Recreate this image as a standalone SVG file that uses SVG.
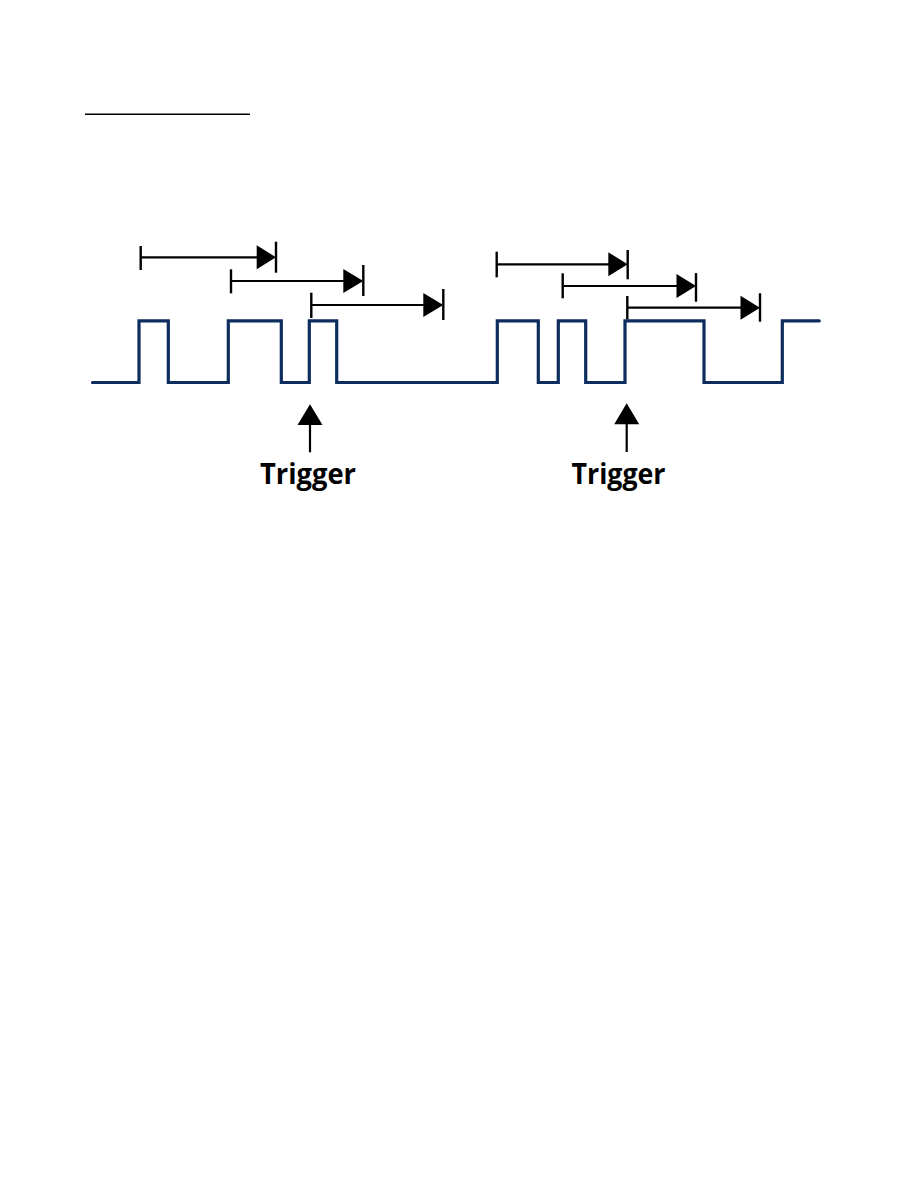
<svg xmlns="http://www.w3.org/2000/svg" width="918" height="1188" viewBox="0 0 918 1188">
<style>
.wave{fill:none;stroke:#0d2d5f;stroke-width:3.2;stroke-linejoin:miter;stroke-linecap:round}
.dim{stroke:#000;stroke-width:2.2;fill:none}
.tick{stroke:#000;stroke-width:2.4}
.head{fill:#000}
.lbl{font-family:"Open Sans","Liberation Sans",sans-serif;font-weight:700;font-size:29px;fill:#000}
</style>
<rect width="918" height="1188" fill="#fff"/>
<line x1="85" y1="114.3" x2="250" y2="114.3" stroke="#000" stroke-width="1.6"/>
<g id="waveform">
<path class="wave" d="M92.5,382.5 H139 V320.8 H168.3 V382.5 H228.3 V320.8 H281.3 V382.5 H309.3 V320.8 H336.7 V382.5 H497.3 V320.8 H538.3 V382.5 H558.3 V320.8 H585.7 V382.5 H625 V320.8 H704 V382.5 H782.3 V320.8 H819.3"/>
</g>
<g id="connectors">
<g id="span-l1">
<line class="tick" x1="140.7" y1="246" x2="140.7" y2="270"/>
<line class="dim" x1="140.7" y1="257.3" x2="258" y2="257.3"/>
<path class="head" d="M256.7,245.3 L276,257.3 L256.7,269.3 Z"/>
<line class="tick" x1="276" y1="241.7" x2="276" y2="272.7"/>
</g>
<g id="span-l2">
<line class="tick" x1="231" y1="269.3" x2="231" y2="293.3"/>
<line class="dim" x1="231" y1="281" x2="345" y2="281"/>
<path class="head" d="M343.3,269 L363.3,281 L343.3,293 Z"/>
<line class="tick" x1="363.3" y1="265" x2="363.3" y2="296"/>
</g>
<g id="span-l3">
<line class="tick" x1="311.3" y1="292.7" x2="311.3" y2="318"/>
<line class="dim" x1="311.3" y1="305" x2="425" y2="305"/>
<path class="head" d="M423.3,293 L443.3,305 L423.3,317 Z"/>
<line class="tick" x1="443.3" y1="289" x2="443.3" y2="320"/>
</g>
<g id="span-r1">
<line class="tick" x1="496.7" y1="251.7" x2="496.7" y2="277.3"/>
<line class="dim" x1="496.7" y1="264.3" x2="610" y2="264.3"/>
<path class="head" d="M608.3,252.3 L627.7,264.3 L608.3,276.3 Z"/>
<line class="tick" x1="627.7" y1="250" x2="627.7" y2="279.3"/>
</g>
<g id="span-r2">
<line class="tick" x1="562.7" y1="273.3" x2="562.7" y2="298.3"/>
<line class="dim" x1="562.7" y1="286" x2="678" y2="286"/>
<path class="head" d="M676.5,274 L696,286 L676.5,298 Z"/>
<line class="tick" x1="696" y1="273" x2="696" y2="301.7"/>
</g>
<g id="span-r3">
<line class="tick" x1="627.3" y1="296" x2="627.3" y2="319.3"/>
<line class="dim" x1="627.3" y1="307.7" x2="742" y2="307.7"/>
<path class="head" d="M740.5,295.7 L760,307.7 L740.5,319.7 Z"/>
<line class="tick" x1="760" y1="293.3" x2="760" y2="321.7"/>
</g>
<g id="trigger-arrow-1">
<line class="dim" x1="310" y1="420" x2="310" y2="452.3"/>
<path class="head" d="M310,404.3 L322.5,425 L297.5,425 Z"/>
</g>
<g id="trigger-arrow-2">
<line class="dim" x1="626.7" y1="420" x2="626.7" y2="452"/>
<path class="head" d="M626.7,403.3 L639.2,424.3 L614.2,424.3 Z"/>
</g>
</g>
<g id="trigger-label-1"><text class="lbl" x="308" y="484.3" text-anchor="middle" textLength="96" lengthAdjust="spacingAndGlyphs">Trigger</text></g>
<g id="trigger-label-2"><text class="lbl" x="618.5" y="484.3" text-anchor="middle" textLength="94" lengthAdjust="spacingAndGlyphs">Trigger</text></g>
</svg>
